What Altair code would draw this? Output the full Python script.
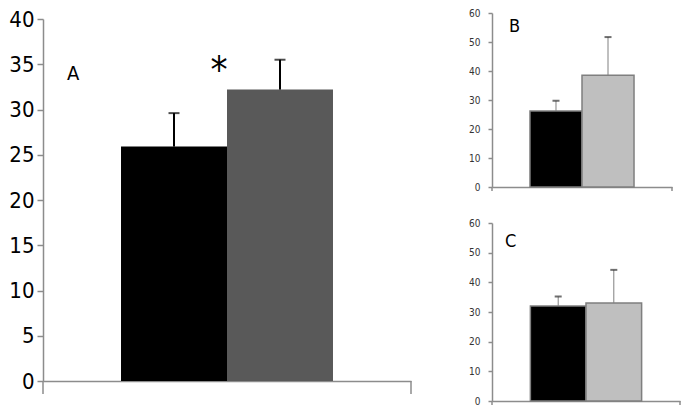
import altair as alt
import pandas as pd

groups = ["Control", "Treated"]

a_means = [25.9, 32.2]
a_errs = [3.7, 3.3]
b_means = [26.2, 38.5]
b_errs = [3.5, 13.2]
c_means = [32.0, 33.0]
c_errs = [3.2, 11.2]

a_ticks = [0, 5, 10, 15, 20, 25, 30, 35, 40]
bc_ticks = [0, 10, 20, 30, 40, 50, 60]

FONT = "DejaVu Sans Condensed, Liberation Sans Narrow, DejaVu Sans, sans-serif"
AXIS_GRAY = "#8c8c8c"


def panel(means, errs, letter, letter_xy, letter_size, colors, bar_stroke,
          ymax, ticks, w, h, po, label_size, label_color, tick_size,
          label_pad, err_color, err_width, cap_color, cap_size, end_tick,
          extra=None):
    df = pd.DataFrame({"group": groups, "mean": means, "err": errs})
    df["upper"] = df["mean"] + df["err"]
    one = pd.DataFrame({"k": [0]})

    xscale = alt.Scale(domain=groups, paddingInner=0, paddingOuter=po)
    xaxis = alt.Axis(labels=False, ticks=False, title=None,
                     domainColor=AXIS_GRAY, domainWidth=1.5)
    yscale = alt.Scale(domain=[0, ymax], nice=False, zero=True)
    yaxis = alt.Axis(values=ticks, title=None, grid=False,
                     labelOverlap=False, tickCount=len(ticks),
                     domainColor=AXIS_GRAY, domainWidth=1.5,
                     tickColor=AXIS_GRAY, tickWidth=1.5,
                     tickSize=tick_size, labelPadding=label_pad,
                     labelFont=FONT, labelFontSize=label_size,
                     labelColor=label_color)

    def X():
        return alt.X("group:N", sort=groups, title=None, scale=xscale, axis=xaxis)

    def Y(field):
        return alt.Y(field, title=None, scale=yscale, axis=yaxis)

    color = alt.Color("group:N", legend=None,
                      scale=alt.Scale(domain=groups, range=colors))
    base = alt.Chart(df)
    if bar_stroke:
        bars = base.mark_bar(stroke=bar_stroke, strokeWidth=1.5).encode(
            x=X(), y=Y("mean:Q"), color=color)
    else:
        bars = base.mark_bar().encode(x=X(), y=Y("mean:Q"), color=color)

    err = base.mark_rule(color=err_color, strokeWidth=err_width).encode(
        x=X(), y=Y("mean:Q"), y2=alt.Y2("upper:Q"))
    caps = base.mark_tick(color=cap_color, orient="horizontal",
                          size=cap_size, thickness=2).encode(
        x=X(), y=Y("upper:Q"))

    ends = alt.Chart(one).mark_rule(color=AXIS_GRAY, strokeWidth=1.5).encode(
        x=alt.value(w), y=alt.value(h), y2=alt.value(h + end_tick))
    ends_left = alt.Chart(one).mark_rule(color=AXIS_GRAY, strokeWidth=1.5).encode(
        x=alt.value(0), y=alt.value(h), y2=alt.value(h + end_tick))

    lab = alt.Chart(one).mark_text(text=letter, font=FONT, fontSize=letter_size,
                                   align="left", baseline="alphabetic",
                                   color="black").encode(
        x=alt.value(letter_xy[0]), y=alt.value(letter_xy[1]))

    layers = [bars, err, caps, ends, ends_left, lab]
    if extra is not None:
        layers.append(extra)
    return alt.layer(*layers).properties(width=w, height=h)


one_row = pd.DataFrame({"k": [0]})
star = alt.Chart(one_row).mark_text(text="*", font=FONT, fontSize=38,
                                    align="center", baseline="alphabetic",
                                    color="black").encode(
    x=alt.value(176), y=alt.value(64))

A = panel(a_means, a_errs, "A", (24, 61), 20, ["#000000", "#595959"], None,
          40, a_ticks, 368, 362, 0.736, 22, "#000000", 6, 3,
          "#000000", 2, "#000000", 11, 13, extra=star)

B = panel(b_means, b_errs, "B", (17, 19), 18, ["#000000", "#bfbfbf"], "#7f7f7f",
          60, bc_ticks, 180, 174, 0.73, 10, "#333333", 4, 8,
          "#808080", 1, "#333333", 7, 4)

C = panel(c_means, c_errs, "C", (13, 24), 18, ["#000000", "#bfbfbf"], "#7f7f7f",
          60, bc_ticks, 188, 178, 0.69, 10, "#333333", 4, 8,
          "#808080", 1, "#333333", 7, 4)

spacer = alt.Chart(one_row).mark_point(opacity=0).encode(
    x=alt.value(0), y=alt.value(0)).properties(width=1, height=1)

left = alt.vconcat(spacer, A, spacing=-8)
right = alt.vconcat(B, C, spacing=26).resolve_scale(color="independent")

chart = alt.hconcat(left, right, spacing=56).resolve_scale(
    color="independent").configure_view(stroke=None).properties(
    padding=0, background="white")

chart.save("out.html", embed_options={"renderer": "svg", "actions": False})
